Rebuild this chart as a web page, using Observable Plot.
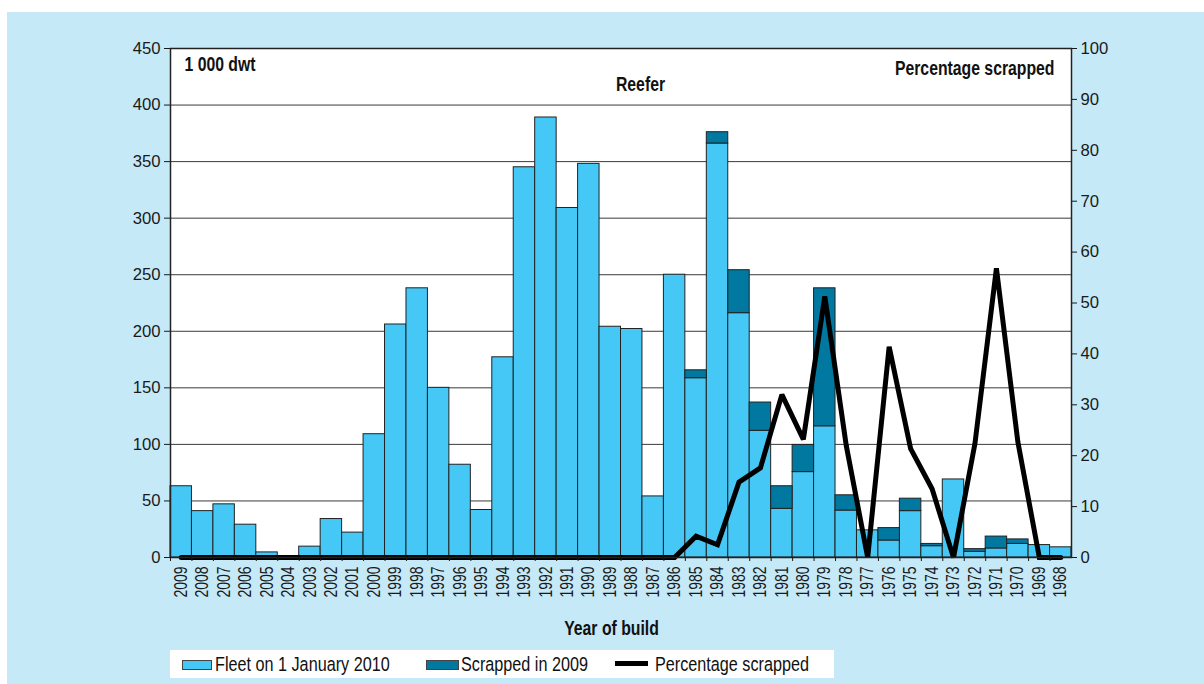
<!DOCTYPE html>
<html>
<head>
<meta charset="utf-8">
<script src="https://cdn.jsdelivr.net/npm/d3@7"></script>
<script src="https://cdn.jsdelivr.net/npm/@observablehq/plot@0.6"></script>
<style>
  html, body { margin: 0; padding: 0; background: #ffffff; }
  #panel { position: absolute; left: 7px; top: 12px; width: 1197px; height: 672px; background: #c6e9f8; overflow: hidden; }
  #chart { position: absolute; left: 0; top: 0; }
  #legend { position: absolute; left: 163px; top: 638px; width: 664px; height: 28px; background: #ffffff;
            font-family: "Liberation Sans", Arial, sans-serif; font-size: 20.5px; color: #111; }
  #legend .sw { position: absolute; box-sizing: border-box; }
  #legend .lt { position: absolute; top: 0; line-height: 28px; white-space: nowrap; transform: scaleX(0.79); transform-origin: 0 50%; }
</style>
</head>
<body>
<div id="panel">
  <div id="chart"></div>
  <div id="legend"></div>
</div>
<script>
// ---- data ----
const years = ["2009","2008","2007","2006","2005","2004","2003","2002","2001","2000",
  "1999","1998","1997","1996","1995","1994","1993","1992","1991","1990",
  "1989","1988","1987","1986","1985","1984","1983","1982","1981","1980",
  "1979","1978","1977","1976","1975","1974","1973","1972","1971","1970",
  "1969","1968"];
const fleet = [63, 41, 47, 29, 4.5, 1, 9.6, 34, 22, 109,
  206, 238, 150, 82, 42, 177, 345, 389, 309, 348,
  204, 202, 54, 250, 158.5, 366, 216, 112, 43, 75.5,
  116, 41.5, 24, 15, 41, 10, 69, 5, 8, 12,
  11, 9];
const scrapped = [0, 0, 0, 0, 0, 0, 0, 0, 0, 0,
  0, 0, 0, 0, 0, 0, 0, 0, 0, 0,
  0, 0, 0, 0, 7, 10, 38, 25, 20, 24,
  122, 13.5, 0, 11, 11, 2, 0, 2.4, 10.5, 4,
  0, 0];
const pctScrapped = [0, 0, 0, 0, 0, 0, 0, 0, 0, 0,
  0, 0, 0, 0, 0, 0, 0, 0, 0, 0,
  0, 0, 0, 0, 4.2, 2.5, 14.8, 17.6, 32, 23.2,
  51.3, 22, 0, 41.4, 21.4, 13.5, 0, 22.4, 56.8, 22.7,
  0, 0];
const leftTicks = [0, 50, 100, 150, 200, 250, 300, 350, 400, 450];
const rightTicks = [0, 10, 20, 30, 40, 50, 60, 70, 80, 90, 100];
const legendLabels = ["Fleet on 1 January 2010", "Scrapped in 2009", "Percentage scrapped"];
const leftUnit = "1 000 dwt";
const rightUnit = "Percentage scrapped";
const chartTitle = "Reefer";
const xTitle = "Year of build";

// ---- build ----
const colFleet = "#45c8f5", colScrap = "#00789f";
const W = 1197, H = 636, ml = 163, mr = 133, mt = 36, mb = 91;
const pctToDwt = 450 / 100;
const bw = (W - ml - mr) / years.length;
const rows = years.map((year, i) => ({year, fleet: fleet[i], scrapped: scrapped[i],
  total: fleet[i] + scrapped[i], pct: pctScrapped[i]}));
const font = "'Liberation Sans', Arial, sans-serif";
const boldOpts = {fontFamily: font, fontWeight: "bold", fontSize: 20.5, fill: "#111"};

const chart = Plot.plot({
  width: W, height: H,
  marginLeft: ml, marginRight: mr, marginTop: mt, marginBottom: mb,
  style: {background: "transparent", fontFamily: font, fontSize: "16.7px", color: "#1a1a1a"},
  x: {domain: years, padding: 0, round: false, axis: null},
  y: {domain: [0, 450], axis: null},
  marks: [
    Plot.frame({fill: "#ffffff", stroke: "none"}),
    Plot.gridY(leftTicks.filter(t => t > 0 && t < 450), {stroke: "#3a3a3a", strokeOpacity: 1, strokeWidth: 1}),
    Plot.barY(rows, {x: "year", y: "fleet", fill: colFleet, stroke: "#222", strokeWidth: 1}),
    Plot.barY(rows.filter(d => d.scrapped > 0), {x: "year", y1: "fleet", y2: "total", fill: colScrap, stroke: "#222", strokeWidth: 1}),
    Plot.line(rows, {x: "year", y: d => d.pct * pctToDwt, stroke: "#000", strokeWidth: 5, strokeLinejoin: "miter", strokeMiterlimit: 2}),
    Plot.frame({stroke: "#222", strokeWidth: 1.5}),
    Plot.axisY({anchor: "left", ticks: leftTicks, tickSize: 6, tickPadding: 4, label: null}),
    Plot.axisY({anchor: "right", ticks: rightTicks.map(t => t * pctToDwt), tickFormat: d => Math.round(d / pctToDwt), tickSize: 5, tickPadding: 4, label: null}),
    Plot.axisX({anchor: "bottom", tickRotate: -90, tickSize: 0, tickPadding: 9, label: null, fontFamily: font, fontSize: 17.5}),
    Plot.axisX({anchor: "bottom", tickSize: 4, tickFormat: () => "", dx: -bw / 2, label: null}),
    Plot.text([leftUnit], {...boldOpts, frameAnchor: "top-left", textAnchor: "start", lineAnchor: "bottom", dx: 14, dy: 22}),
    Plot.text([chartTitle], {...boldOpts, frameAnchor: "top", lineAnchor: "bottom", dx: 19.5, dy: 42}),
    Plot.text([rightUnit], {...boldOpts, frameAnchor: "top-right", textAnchor: "end", lineAnchor: "bottom", dx: -17, dy: 26}),
    Plot.text([xTitle], {...boldOpts, frameAnchor: "bottom", lineAnchor: "bottom", dx: -9.5, dy: 77})
  ]
});
document.getElementById("chart").appendChild(chart);

// condensed look: squeeze text along its reading direction about its anchor
function narrow(selector, k) {
  chart.querySelectorAll(selector).forEach(t => {
    const x = +t.getAttribute("x") || 0, y = +t.getAttribute("y") || 0;
    const tr = t.getAttribute("transform") || "";
    t.setAttribute("transform", `${tr} translate(${x},${y}) scale(${k},1) translate(${-x},${-y})`);
  });
}
narrow('g[aria-label="x-axis tick label"] text', 0.8);
narrow('g[aria-label="text"] text', 0.77);

// ---- legend ----
const lg = document.getElementById("legend");
const items = [
  {sw: {left: 12, top: 9.5, width: 30, height: 10.5, background: colFleet, border: "1.5px solid #444"}, tx: 44.5},
  {sw: {left: 256, top: 9.5, width: 33, height: 10.5, background: colScrap, border: "1.5px solid #444"}, tx: 291},
  {sw: {left: 445, top: 11, width: 33, height: 5, background: "#000"}, tx: 485}
];
items.forEach((it, i) => {
  const s = document.createElement("div");
  s.className = "sw";
  Object.entries(it.sw).forEach(([k, v]) => s.style[k] = typeof v === "number" ? v + "px" : v);
  lg.appendChild(s);
  const t = document.createElement("div");
  t.className = "lt";
  t.style.left = it.tx + "px";
  t.textContent = legendLabels[i];
  lg.appendChild(t);
});
</script>
</body>
</html>
